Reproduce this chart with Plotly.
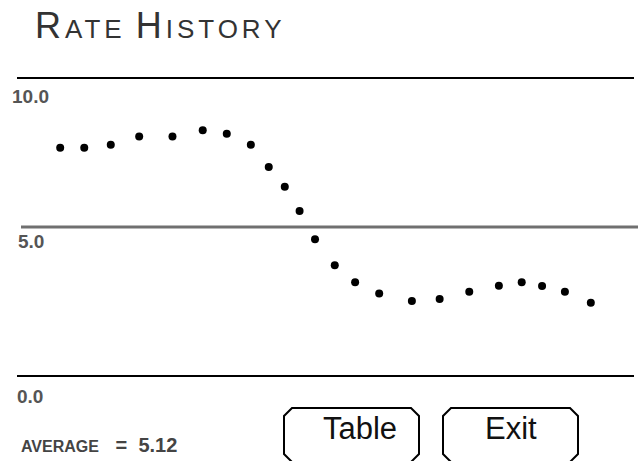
import plotly.graph_objects as go

# ---- data ----
x_pos = [7.0, 10.9, 15.2, 19.8, 25.2, 30.1, 34.0, 37.9, 40.8, 43.4, 45.8, 48.3,
         51.5, 54.8, 58.7, 64.0, 68.5, 73.3, 78.1, 81.8, 85.1, 88.8, 93.0]
rates = [7.66, 7.66, 7.76, 8.04, 8.04, 8.25, 8.13, 7.76, 7.01, 6.35, 5.54, 4.59,
         3.72, 3.15, 2.77, 2.52, 2.58, 2.83, 3.03, 3.15, 3.02, 2.83, 2.46]
grid_values = [10, 5, 0]
grid_labels = ["10.0", "5.0", "0.0"]
average_label = "5.12"
buttons = ["Table", "Exit"]

W, H = 640, 461


def px(x):
    return x / W


def py(y):
    return 1 - y / H


fig = go.Figure()
fig.add_trace(go.Scatter(
    x=x_pos, y=rates, mode="markers",
    marker=dict(color="black", size=8, symbol="circle", line=dict(width=0)),
    hoverinfo="x+y", showlegend=False,
))

shapes = []
# horizontal reference lines
line_styles = {10: ("black", 2, 17, 634), 5: ("#707070", 3, 21, 638), 0: ("black", 2, 17, 634)}
for v in grid_values:
    col, w, a, b = line_styles[v]
    shapes.append(dict(type="line", xref="paper", yref="y", x0=px(a), x1=px(b), y0=v, y1=v,
                       line=dict(color=col, width=w)))

# buttons
btn_boxes = [(284, 419), (443, 578)]
by0, by1, c = 408, 462, 8
for (bx0, bx1) in btn_boxes:
    pts = [(bx0 + c, by0), (bx1 - c, by0), (bx1, by0 + c), (bx1, by1 - c),
           (bx1 - c, by1), (bx0 + c, by1), (bx0, by1 - c), (bx0, by0 + c)]
    path = "M " + " L ".join(f"{px(a):.5f},{py(b):.5f}" for a, b in pts) + " Z"
    shapes.append(dict(type="path", xref="paper", yref="paper", path=path,
                       line=dict(color="black", width=2), fillcolor="rgba(0,0,0,0)"))

annotations = []
# title in small caps
big = 'font-size:36px;letter-spacing:4px'
small = 'font-size:26px;letter-spacing:4px'
title = (f'<span style="{big}">R</span><span style="{small}">ATE</span> '
         f'<span style="{big}">H</span><span style="{small}">ISTORY</span>')
annotations.append(dict(text=title, xref="paper", yref="paper", x=px(33), y=py(3),
                        xanchor="left", yanchor="top", showarrow=False,
                        font=dict(family="Liberation Sans", color="#333333", size=36)))

# axis labels under the lines
label_x = {10: 10, 5: 16, 0: 15}
label_shift = {10: -18, 5: -14, 0: -20}
for v, t in zip(grid_values, grid_labels):
    annotations.append(dict(text=t, xref="paper", yref="y", x=px(label_x[v]), y=v,
                            xanchor="left", yanchor="middle", yshift=label_shift[v], showarrow=False,
                            font=dict(family="Liberation Sans", color="#555555", size=19, weight="bold")))

# average
annotations.append(dict(
    text='<span style="font-size:16px">AVERAGE</span>&nbsp;&nbsp;&nbsp;=&nbsp;&nbsp;' + average_label,
    xref="paper", yref="paper", x=px(19), y=py(445), xanchor="left", yanchor="middle",
    showarrow=False, font=dict(family="Liberation Sans", color="#444444", size=20, weight="bold")))

# button captions
text_cx = [360, 511]
for cx, t in zip(text_cx, buttons):
    annotations.append(dict(text=t, xref="paper", yref="paper", x=px(cx), y=py(428),
                            xanchor="center", yanchor="middle", showarrow=False,
                            font=dict(family="Liberation Sans", color="#111111", size=31)))

fig.update_layout(
    width=W, height=H, autosize=False,
    margin=dict(l=0, r=0, t=0, b=0),
    paper_bgcolor="white", plot_bgcolor="white",
    xaxis=dict(range=[-17 / 6.17, 623 / 6.17], visible=False, fixedrange=True),
    yaxis=dict(range=[5 - 234 / 29.8, 5 + 227 / 29.8], visible=False, fixedrange=True),
    shapes=shapes, annotations=annotations,
)

fig.write_html("out.html", config={"displayModeBar": False},
               post_script="document.body.style.margin='0';document.body.style.overflow='hidden';")
